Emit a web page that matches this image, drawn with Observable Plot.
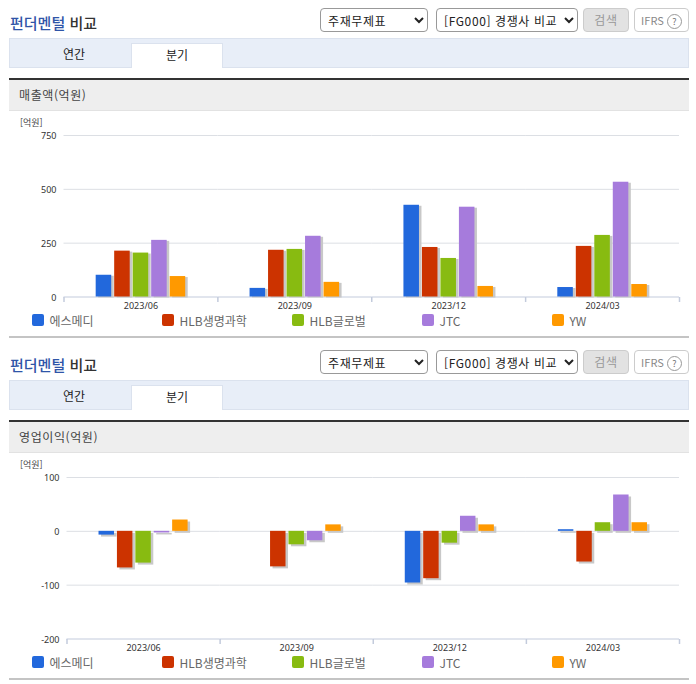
<!DOCTYPE html>
<html lang="ko"><head><meta charset="utf-8">
<script src="https://cdn.jsdelivr.net/npm/d3@7"></script>
<script src="https://cdn.jsdelivr.net/npm/@observablehq/plot@0.6"></script>
<style>
html,body{margin:0;padding:0;background:#fff}
body{width:696px;height:684px;position:relative;overflow:hidden;font-family:"Noto Sans CJK KR","Noto Sans",sans-serif;color:#333}
.abs{position:absolute;box-sizing:border-box}
.title{left:10px;font-size:15px;font-weight:500;line-height:20px;color:#333}
.title b{font-weight:500;color:#2f55a8}
select{position:absolute;box-sizing:border-box;height:24px;background:#fff;border:1px solid #999;border-radius:4px;font:12px "Noto Sans CJK KR",sans-serif;letter-spacing:.6px;color:#222;padding:0 0 0 3px;margin:0}
.btn{height:24px;top:8px;border-radius:4px;font-size:12px;line-height:22px;text-align:center}
.band{left:9px;width:680px;height:30px;background:#e8eef8;border:1px solid #dbe2ee}
.tab{left:131px;width:92px;height:25px;background:#fff;border:1px solid #dbe2ee;border-bottom:none}
.tabt{font-size:12px;line-height:16px;color:#222;text-align:center}
.bar{left:9px;width:680px;height:2px;background:#333}
.sub{left:9px;width:680px;height:31px;background:#eee;border-bottom:1px solid #e2e2e2;padding-left:10px;font-size:12px;letter-spacing:.6px;line-height:30px;color:#444}
.unit{left:20px;font-size:9px;line-height:12px;color:#444}
.sw{width:12px;height:12px;border-radius:2px}
.lg{font-size:12px;line-height:13px;color:#666}
.sep{left:9px;width:680px;height:2px;background:#c4c4c4}
svg{position:absolute;overflow:visible}
</style></head><body>
<script>
const periods = ["2023/06","2023/09","2023/12","2024/03"];
const companies = ["에스메디","HLB생명과학","HLB글로벌","JTC","YW"];
const colors = ["#2268dc","#cc3300","#88bb11","#a67bdc","#ff9900"];
const legendX = [32,162,292,422,552];

const revenueSmedi  = [101,40,426,44];
const revenueHlbLs  = [213,217,230,235];
const revenueHlbGl  = [204,221,179,286];
const revenueJtc    = [263,282,417,533];
const revenueYw     = [95,68,49,58];

const profitSmedi = [-7,0,-96,3];
const profitHlbLs = [-68,-66,-88,-57];
const profitHlbGl = [-59,-25,-22,16];
const profitJtc   = [-3,-17.5,28,67.5];
const profitYw    = [21,12,12,16];

const revenueTicks = [0,250,500,750];
const profitTicks = [-200,-100,0,100];

const table = (series) => periods.flatMap((period,i) =>
  companies.map((company,j) => ({period, company, value: series[j][i]})));

function add(cls, top, html, style){
  const d = document.createElement("div");
  d.className = "abs "+cls;
  d.style.top = top+"px";
  if (style) d.style.cssText += style;
  d.innerHTML = html;
  document.body.appendChild(d);
  return d;
}
function sel(text,left,width,top){
  const s = document.createElement("select");
  s.innerHTML = `<option>${text}</option>`;
  s.style.cssText = `left:${left}px;width:${width}px;top:${top}px`;
  document.body.appendChild(s);
}
const tickSym = {draw(c){c.moveTo(0,0);c.lineTo(0,5);}};

function chart(series, ticks, domain, left, top, shadowDy){
  const rows = table(series).filter(d => d.value !== 0);
  const svg = Plot.plot({
    width:696, height:200,
    marginLeft:left, marginRight:17, marginTop:20, marginBottom:18.5,
    style:{fontFamily:'"Noto Sans","Noto Sans CJK KR",sans-serif',fontSize:"9px",color:"#333",background:"transparent"},
    fx:{domain:periods,padding:0,round:false,label:null},
    x:{domain:companies,paddingInner:0.16,paddingOuter:1.74,round:false,axis:null,label:null},
    y:{domain,label:null,axis:null},
    color:{domain:companies,range:colors},
    marks:[
      Plot.ruleY(ticks.filter(t=>t!==domain[0]),{stroke:"#dcdfe4",strokeWidth:1}),
      Plot.ruleY([domain[0]],{stroke:"#c3cbdc",strokeWidth:1}),
      Plot.dot(periods,{fx:d=>d,frameAnchor:"bottom-left",symbol:tickSym,r:3,stroke:"#c3cbdc",fill:"none"}),
      Plot.dot(periods.slice(-1),{fx:d=>d,frameAnchor:"bottom-right",symbol:tickSym,r:3,stroke:"#c3cbdc",fill:"none"}),
      Plot.barY(rows,{fx:"period",x:"company",y:"value",fill:"#c8c8c8",dx:2.5,dy:shadowDy}),
      Plot.barY(rows,{fx:"period",x:"company",y:"value",fill:"company"}),
      Plot.axisY({ticks,tickSize:0,tickPadding:7.5,label:null,fontSize:9,dy:1,tickFormat:d=>String(d)}),
      Plot.axisFx({anchor:"bottom",tickSize:0,tickPadding:6,label:null,fontSize:9})
    ]
  });
  svg.style.left="0px"; svg.style.top=top+"px";
  document.body.appendChild(svg);
}

function block(off, subtitle, series, ticks, domain, left, dy){
  add("title", off+13, "<b>펀더멘털</b> 비교");
  sel("주재무제표",320,108,off+8);
  sel("[FG000] 경쟁사 비교",436,142,off+8);
  add("btn", off+8, "검색", "left:583px;width:46px;background:#e2e2e2;border:1px solid #ccc;color:#999;letter-spacing:.6px;");
  add("btn", off+8, 'IFRS <span style="display:inline-block;width:13px;height:13px;border:1px solid #999;border-radius:50%;font-size:9px;line-height:13px;color:#777">?</span>', "left:634px;width:55px;background:#fff;border:1px solid #ccc;color:#888;font-size:11px;");
  add("band", off+38, "");
  add("tab", off+43, "");
  add("tabt", off+46, "연간", "left:31px;width:86px;");
  add("tabt", off+47, "분기", "left:134px;width:86px;");
  add("bar", off+78, "");
  add("sub", off+80, subtitle);
  add("unit", off+117, "[억원]");
  chart(series, ticks, domain, left, off+115, dy);
  companies.forEach((c,i)=>{
    add("sw", off+314, "", `left:${legendX[i]}px;background:${colors[i]};`);
    add("lg", off+313.5, c, `left:${legendX[i]+17.5}px;`);
  });
  add("sep", off+336, "");
}
block(0,"매출액(억원)",[revenueSmedi,revenueHlbLs,revenueHlbGl,revenueJtc,revenueYw],revenueTicks,[0,750],63.5,1);
block(342,"영업이익(억원)",[profitSmedi,profitHlbLs,profitHlbGl,profitJtc,profitYw],profitTicks,[-200,100],66.5,2);
</script>
</body></html>
